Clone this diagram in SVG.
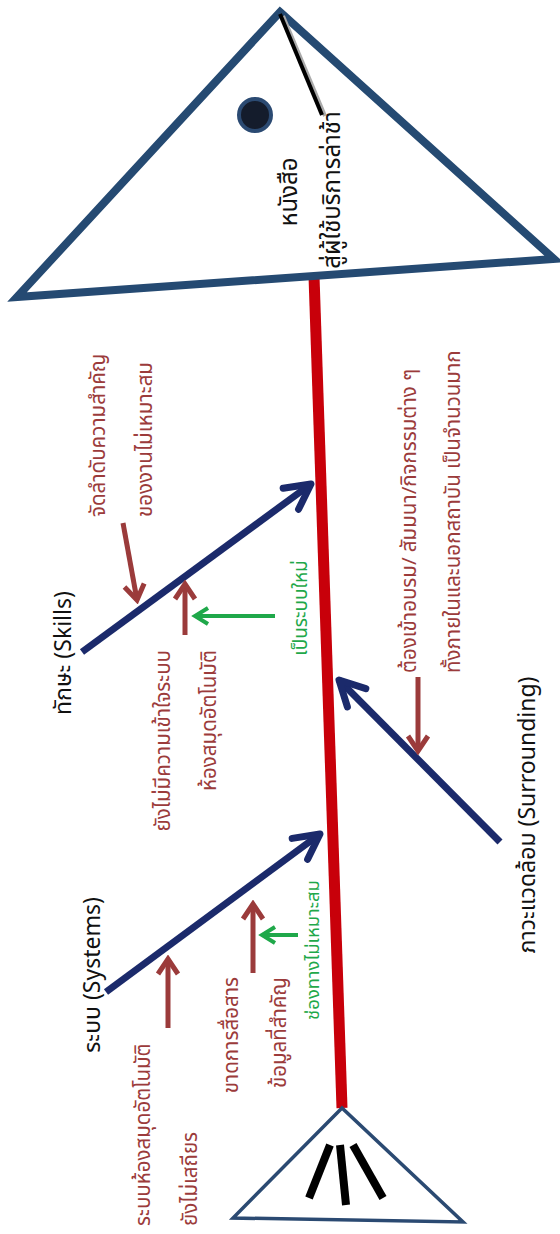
<svg xmlns="http://www.w3.org/2000/svg" width="560" height="1234" viewBox="0 0 560 1234">
<defs>
<style>
.t{font-family:"Noto Sans","Noto Sans Thai",Tahoma,"DejaVu Sans",sans-serif}
.lbl{font-size:23px;fill:#111}
.br{font-size:20.5px;fill:#9b3b3b}
.gr{font-size:19px;fill:#1fa84a}
.hd{font-size:24px;fill:#111}
.bone{stroke:#1b2a6b;stroke-width:7;fill:none}
.barr{stroke:#9b3b3b;stroke-width:5;fill:none}
.garr{stroke:#1fa84a;stroke-width:4;fill:none}
</style>
<marker id="mNavy" viewBox="-30 -20 34 40" refX="0" refY="0" markerWidth="34" markerHeight="40" markerUnits="userSpaceOnUse" orient="auto">
<path d="M-25,-13 L0,0 L-25,13" fill="none" stroke="#1b2a6b" stroke-width="7" stroke-linecap="round" stroke-linejoin="round"/>
</marker>
<marker id="mBrown" viewBox="-22 -16 26 32" refX="0" refY="0" markerWidth="26" markerHeight="32" markerUnits="userSpaceOnUse" orient="auto">
<path d="M-15,-10 L0,0 L-15,10" fill="none" stroke="#9b3b3b" stroke-width="5" stroke-linejoin="miter"/>
</marker>
<marker id="mGreen" viewBox="-20 -14 24 28" refX="0" refY="0" markerWidth="24" markerHeight="28" markerUnits="userSpaceOnUse" orient="auto">
<path d="M-13,-8 L0,0 L-13,8" fill="none" stroke="#1fa84a" stroke-width="4" stroke-linejoin="miter"/>
</marker>
</defs>
<rect width="560" height="1234" fill="#fff"/>

<g id="connectors">
<line id="spine" x1="314" y1="276" x2="342" y2="1108" stroke="#c8000a" stroke-width="11"/>
<line class="bone" x1="82" y1="652" x2="311" y2="484" marker-end="url(#mNavy)"/>
<line class="bone" x1="106" y1="992" x2="320" y2="834" marker-end="url(#mNavy)"/>
<line class="bone" x1="500" y1="842" x2="339" y2="680" marker-end="url(#mNavy)"/>
<line class="barr" x1="123" y1="523" x2="137" y2="600" marker-end="url(#mBrown)"/>
<line class="barr" x1="185" y1="635" x2="185" y2="584" marker-end="url(#mBrown)"/>
<line class="garr" x1="275" y1="616" x2="195" y2="616" marker-end="url(#mGreen)"/>
<line class="barr" x1="418" y1="677" x2="418" y2="751" marker-end="url(#mBrown)"/>
<line class="barr" x1="168" y1="1028" x2="168" y2="959" marker-end="url(#mBrown)"/>
<line class="barr" x1="253" y1="973" x2="253" y2="904" marker-end="url(#mBrown)"/>
<line class="garr" x1="298" y1="935" x2="262" y2="935" marker-end="url(#mGreen)"/>
</g>

<g id="head">
<polygon points="280,12 554,259 17,297" fill="#fff" stroke="#254a72" stroke-width="8" stroke-linejoin="miter"/>
<line x1="283" y1="16" x2="325" y2="116" stroke="#aaa" stroke-width="4"/>
<line x1="280" y1="14" x2="322" y2="115" stroke="#000" stroke-width="4"/>
<circle cx="255" cy="115" r="16" fill="#141c2c" stroke="#2b4a72" stroke-width="4"/>
<text class="t hd" text-anchor="middle" transform="translate(297,192) rotate(-90)">หนังสือ</text>
<text class="t hd" text-anchor="middle" transform="translate(340,190) rotate(-90)">สู่ผู้ใช้บริการล่าช้า</text>
</g>

<g id="tail">
<polygon points="342,1108 233,1218 463,1222" fill="#fff" stroke="#2b4a72" stroke-width="3.5" stroke-linejoin="miter"/>
<g stroke="#000" stroke-width="8">
<line x1="330" y1="1145" x2="309" y2="1198"/>
<line x1="340" y1="1145" x2="346" y2="1205"/>
<line x1="353" y1="1145" x2="383" y2="1198"/>
</g>
</g>

<g id="skills">
<text class="t lbl" text-anchor="middle" transform="translate(71,653) rotate(-90)">ทักษะ (Skills)</text>
<text class="t br" text-anchor="start" transform="translate(105,517) rotate(-90)">จัดลำดับความสำคัญ</text>
<text class="t br" text-anchor="start" transform="translate(152,517) rotate(-90)">ของงานไม่เหมาะสม</text>
<text class="t br" text-anchor="end" transform="translate(170,650) rotate(-90)">ยังไม่มีความเข้าใจระบบ</text>
<text class="t br" text-anchor="end" transform="translate(216,650) rotate(-90)">ห้องสมุดอัตโนมัติ</text>
<text class="t gr" text-anchor="middle" transform="translate(307,608) rotate(-90)">เป็นระบบใหม่</text>
</g>

<g id="surrounding">
<text class="t lbl" text-anchor="middle" transform="translate(535,815) rotate(-90)">ภาวะแวดล้อม (Surrounding)</text>
<text class="t br" text-anchor="start" transform="translate(416,673) rotate(-90)">ต้องเข้าอบรม/ สัมมนา/กิจกรรมต่าง ๆ</text>
<text class="t br" text-anchor="start" transform="translate(460,673) rotate(-90)">ทั้งภายในและนอกสถาบัน เป็นจำนวนมาก</text>
</g>

<g id="systems">
<text class="t lbl" text-anchor="middle" transform="translate(100,975) rotate(-90)">ระบบ (Systems)</text>
<text class="t br" text-anchor="start" transform="translate(150,1226) rotate(-90)">ระบบห้องสมุดอัตโนมัติ</text>
<text class="t br" text-anchor="start" transform="translate(197,1226) rotate(-90)">ยังไม่เสถียร</text>
<text class="t br" text-anchor="end" transform="translate(238,977) rotate(-90)">ขาดการสื่อสาร</text>
<text class="t br" text-anchor="end" transform="translate(286,977) rotate(-90)">ข้อมูลที่สำคัญ</text>
<text class="t gr" text-anchor="middle" transform="translate(319,950) rotate(-90)" style="font-size:18.5px">ช่องทางไม่เหมาะสม</text>
</g>
</svg>
